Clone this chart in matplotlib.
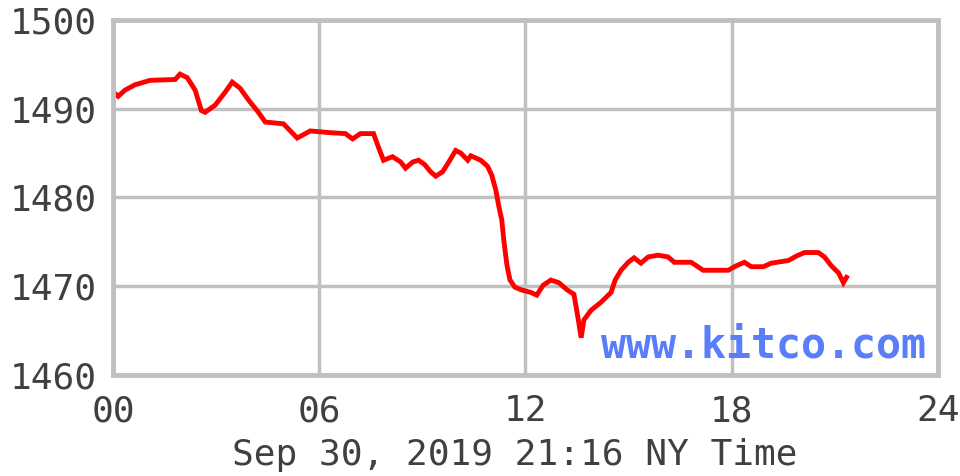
import matplotlib
matplotlib.use('Agg')
import matplotlib.pyplot as plt

# gold spot price, hours since midnight NY time
hours = [0.00, 0.15, 0.35, 0.64, 1.08, 1.81, 1.95, 2.16, 2.39, 2.57, 2.68, 2.97,
         3.27, 3.47, 3.70, 3.94, 4.23, 4.43, 4.96, 5.36, 5.74, 6.33, 6.76, 6.97,
         7.20, 7.58, 7.73, 7.87, 8.13, 8.37, 8.51, 8.72, 8.89, 9.07, 9.24, 9.39,
         9.59, 9.77, 9.97, 10.12, 10.32, 10.41, 10.70, 10.90, 11.02, 11.14, 11.22,
         11.31, 11.37, 11.46, 11.55, 11.69, 11.87, 12.16, 12.33, 12.51, 12.74,
         12.97, 13.21, 13.41, 13.53, 13.62, 13.70, 13.91, 14.20, 14.49, 14.61,
         14.78, 14.99, 15.16, 15.36, 15.57, 15.86, 16.15, 16.33, 16.82, 17.17,
         17.90, 18.13, 18.37, 18.57, 18.92, 19.15, 19.65, 19.88, 20.12, 20.52,
         20.70, 20.90, 21.11, 21.25, 21.34]
prices = [1491.9, 1491.4, 1492.1, 1492.7, 1493.2, 1493.3, 1493.9, 1493.5, 1492.1,
          1489.8, 1489.6, 1490.4, 1491.9, 1493.0, 1492.3, 1491.0, 1489.6, 1488.5,
          1488.3, 1486.7, 1487.5, 1487.3, 1487.2, 1486.6, 1487.2, 1487.2, 1485.6,
          1484.2, 1484.6, 1484.0, 1483.3, 1484.0, 1484.2, 1483.7, 1482.9, 1482.4,
          1482.9, 1484.0, 1485.3, 1485.0, 1484.2, 1484.7, 1484.2, 1483.5, 1482.5,
          1480.8, 1479.1, 1477.5, 1475.2, 1472.4, 1470.7, 1469.9, 1469.6, 1469.3,
          1469.0, 1470.1, 1470.7, 1470.4, 1469.6, 1469.1, 1466.4, 1464.2, 1466.2,
          1467.3, 1468.2, 1469.3, 1470.7, 1471.8, 1472.7, 1473.2, 1472.6, 1473.3,
          1473.5, 1473.3, 1472.7, 1472.7, 1471.8, 1471.8, 1472.3, 1472.7, 1472.2,
          1472.2, 1472.6, 1472.9, 1473.4, 1473.8, 1473.8, 1473.3, 1472.3, 1471.5,
          1470.4, 1471.0]

x_ticks = [0, 6, 12, 18, 24]
x_labels = ['00', '06', '12', '18', '24']
y_ticks = [1460, 1470, 1480, 1490, 1500]

gray = '#c0c0c0'
txt = '#404040'
font = 'DejaVu Sans Mono'

fig = plt.figure(figsize=(9.6, 4.76), dpi=100)
ax = fig.add_axes([0.1177, 0.2122, 0.8593, 0.7458])

ax.plot(hours, prices, color='#ff0000', linewidth=3.5, solid_joinstyle='miter')

ax.set_xlim(0, 24)
ax.set_ylim(1460, 1500)
ax.set_xticks(x_ticks)
ax.set_xticklabels(x_labels)
ax.set_yticks(y_ticks)
ax.tick_params(length=0, labelsize=26, colors=txt)
ax.tick_params(axis='x', pad=14)
ax.tick_params(axis='y', pad=12)
for lbl in ax.get_xticklabels() + ax.get_yticklabels():
    lbl.set_family(font)

ax.grid(True, color=gray, linewidth=2.5)
ax.set_axisbelow(True)
for s in ax.spines.values():
    s.set_color(gray)
    s.set_linewidth(3.5)

ax.set_xlabel('Sep 30, 2019 21:16 NY Time', fontsize=26, family=font,
              color=txt, labelpad=0)
ax.xaxis.set_label_coords(0.487, -0.178)

ax.text(0.985, 0.025, 'www.kitco.com', transform=ax.transAxes, ha='right',
        va='bottom', fontsize=30, fontweight='bold', family=font, color='#5a7dfa')

fig.savefig('out.png', dpi=100)
